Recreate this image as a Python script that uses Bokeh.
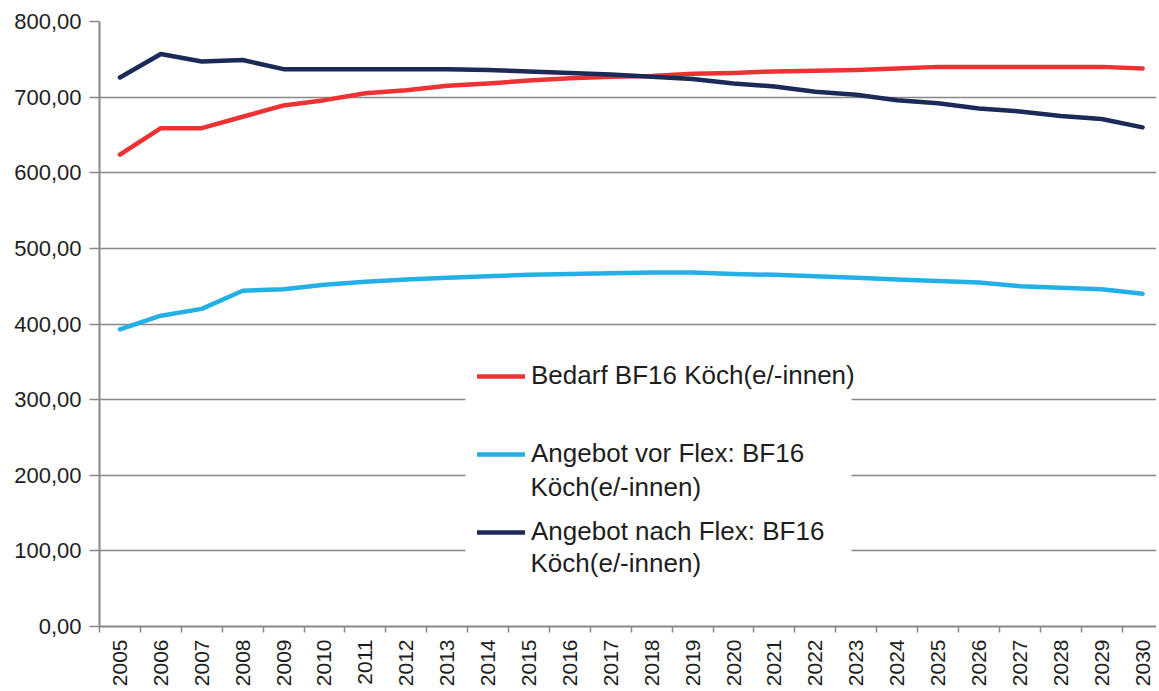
from bokeh.plotting import figure
from bokeh.models import FixedTicker, Legend, LegendItem, Range1d, BoxAnnotation, Label
from bokeh.embed import file_html
from bokeh.resources import INLINE

years = list(range(2005, 2031))
bedarf = [624, 659, 659, 674, 689, 696, 705, 709, 715, 718, 722, 725, 727,
          728, 731, 732, 734, 735, 736, 738, 740, 740, 740, 740, 740, 738]
angebot_vor = [393, 411, 420, 444, 446, 452, 456, 459, 461, 463, 465, 466, 467,
               468, 468, 466, 465, 463, 461, 459, 457, 455, 450, 448, 446, 440]
angebot_nach = [726, 757, 747, 749, 737, 737, 737, 737, 737, 736, 734, 732, 730,
                727, 724, 718, 714, 707, 703, 696, 692, 685, 681, 675, 671, 660]
y_ticks = [0, 100, 200, 300, 400, 500, 600, 700, 800]
y_tick_labels = ["0,00", "100,00", "200,00", "300,00", "400,00",
                 "500,00", "600,00", "700,00", "800,00"]
series_labels = ["Bedarf BF16 Köch(e/-innen)",
                 "Angebot vor Flex: BF16",
                 "Angebot nach Flex: BF16"]
continuation = ["Köch(e/-innen)", "Köch(e/-innen)"]
colors = ["#EE3133", "#22B0E6", "#1B2A57"]

FONT = "Liberation Sans"
GRID = "#888888"
TEXT = "#1e1e1e"

p = figure(width=1156, height=690, output_backend="svg", toolbar_location=None,
           x_range=Range1d(2004.5, 2030.34), y_range=Range1d(0, 800),
           min_border_left=99, min_border_right=0, min_border_top=21,
           min_border_bottom=64)
p.outline_line_color = None
p.background_fill_color = "white"
p.border_fill_color = "white"

renderers = []
for vals, c in zip([bedarf, angebot_vor, angebot_nach], colors):
    r = p.line(years, vals, line_color=c, line_width=4.5, line_join="round",
               line_cap="round")
    renderers.append(r)

# x axis
p.xaxis.ticker = FixedTicker(ticks=years, minor_ticks=[y - 0.5 for y in years])
p.xaxis.major_label_orientation = 1.5707963
p.xaxis.major_tick_out = 0
p.xaxis.major_tick_in = 0
p.xaxis.minor_tick_out = 6
p.xaxis.minor_tick_in = 0
p.xaxis.minor_tick_line_color = GRID
p.xaxis.minor_tick_line_width = 1.5
p.xaxis.major_label_standoff = 7
p.xaxis.major_label_text_font = FONT
p.xaxis.major_label_text_font_size = "21px"
p.xaxis.major_label_text_color = TEXT
p.xaxis.axis_line_color = GRID
p.xaxis.axis_line_width = 2

# y axis
p.yaxis.ticker = FixedTicker(ticks=y_ticks)
p.yaxis.major_label_overrides = {t: l for t, l in zip(y_ticks, y_tick_labels)}
p.yaxis.major_tick_out = 10
p.yaxis.major_tick_in = 0
p.yaxis.minor_tick_out = 0
p.yaxis.minor_tick_in = 0
p.yaxis.major_tick_line_color = GRID
p.yaxis.major_tick_line_width = 1.5
p.yaxis.major_label_standoff = 8
p.yaxis.major_label_text_font = FONT
p.yaxis.major_label_text_font_size = "22px"
p.yaxis.major_label_text_color = TEXT
p.yaxis.axis_line_color = GRID
p.yaxis.axis_line_width = 2

p.xgrid.grid_line_color = None
p.ygrid.grid_line_color = GRID
p.ygrid.grid_line_width = 1.5

# white legend box (covers the gridlines)
box = BoxAnnotation(left=366, right=752, bottom=34, top=283,
                    left_units="screen", right_units="screen",
                    bottom_units="screen", top_units="screen",
                    fill_color="white", fill_alpha=1.0, line_color=None)
p.add_layout(box)

items = [LegendItem(label=l, renderers=[r]) for l, r in zip(series_labels, renderers)]
legend = Legend(items=items, location=(378, 79), border_line_color=None,
                background_fill_alpha=0.0,
                label_text_font=FONT, label_text_font_size="26px",
                label_text_color=TEXT, glyph_width=48, glyph_height=30,
                label_standoff=6, padding=12, spacing=47, margin=0)
p.add_layout(legend, "center")

for txt, yy in zip(continuation, [140, 64]):
    p.add_layout(Label(x=431, y=yy, x_units="screen", y_units="screen",
                       text=txt, text_baseline="middle", text_font=FONT,
                       text_font_size="26px", text_color=TEXT))

open("out.html", "w").write(file_html(p, INLINE))
